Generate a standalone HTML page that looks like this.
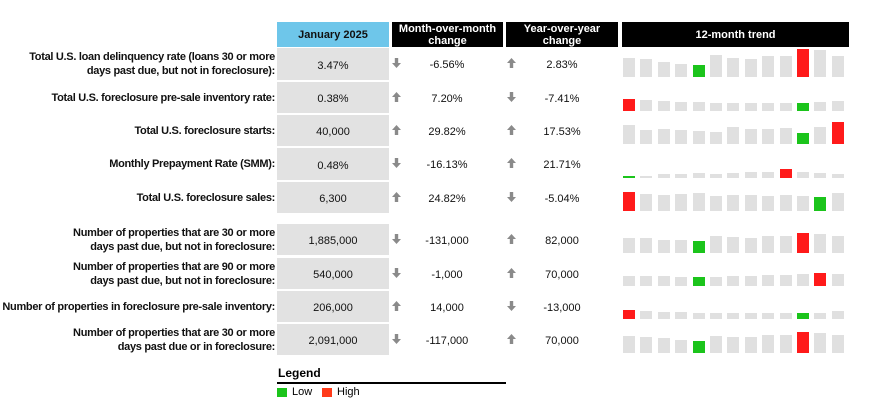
<!DOCTYPE html>
<html><head><meta charset="utf-8"><style>
body{margin:0;width:883px;height:406px;background:#fff;position:relative;overflow:hidden;font-family:"Liberation Sans",Arial,sans-serif;}
.a{position:absolute;}
.hd{position:absolute;background:#000;color:#fff;font-weight:bold;font-size:11px;text-align:center;line-height:12px;top:22px;height:25px;display:flex;align-items:center;justify-content:center;}
.lbl{position:absolute;right:608px;font-weight:bold;font-size:11px;letter-spacing:-0.3px;text-align:right;line-height:14px;color:#111;white-space:nowrap;}
.box{position:absolute;left:277px;width:112px;background:#e2e2e2;font-size:11px;text-align:center;color:#111;}
.v{position:absolute;font-size:11px;text-align:center;width:100px;color:#111;line-height:14px;}
.bar{position:absolute;width:12px;background:#e0e0e0;}
</style></head><body>
<div class="hd" style="left:277px;width:112px;background:#6ec6ea;color:#111;">January 2025</div>
<div class="hd" style="left:392px;width:111px;">Month-over-month<br>change</div>
<div class="hd" style="left:506px;width:112px;">Year-over-year<br>change</div>
<div class="hd" style="left:622px;width:227px;">12-month trend</div>
<div id="c"></div>
<div class="a" style="left:278px;top:366px;font-size:12px;font-weight:bold;">Legend</div>
<div class="a" style="left:277px;top:382px;width:229px;height:2px;background:#000;"></div>
<div class="a" style="left:277px;top:388px;width:10px;height:9px;background:#1bc41b;"></div>
<div class="a" style="left:292px;top:386px;font-size:11px;">Low</div>
<div class="a" style="left:322px;top:388px;width:10px;height:9px;background:#ff3b1a;"></div>
<div class="a" style="left:337px;top:386px;font-size:11px;">High</div>
<script>
var rows=[
[48,80,"Total U.S. loan delinquency rate (loans 30 or more<br>days past due, but not in foreclosure):","3.47%","d","-6.56%","u","2.83%",77.3,[19.7,18.7,15.7,13,12,22,19.3,18.7,21.7,21.7,28,27.3,21.7],4,10],
[82,113,"Total U.S. foreclosure pre-sale inventory rate:","0.38%","u","7.20%","d","-7.41%",111,[11.7,10.7,10,9.3,8.7,8.3,8.3,8,8,8,8,8.7,10],10,0],
[115,146,"Total U.S. foreclosure starts:","40,000","u","29.82%","u","17.53%",144,[19,13.7,14.7,14,13.3,12.3,16.7,15,14.7,15.7,11.3,17,22.3],10,12],
[148,180,"Monthly Prepayment Rate (SMM):","0.48%","d","-16.13%","u","21.71%",177.7,[2,1.3,3.7,4,4.7,4,4.7,5.3,5.3,8.3,5.3,4.7,3.7],0,9],
[182,213,"Total U.S. foreclosure sales:","6,300","u","24.82%","d","-5.04%",211,[18.7,17,16.3,16.7,17.7,15.3,16,16.3,15.3,16.3,15.3,14,17.7],11,0],
[224,255,"Number of properties that are 30 or more<br>days past due, but not in foreclosure:","1,885,000","d","-131,000","u","82,000",252.7,[15,14.7,13,12.3,11.7,16.7,15.3,15,16.3,16.7,19.3,18.7,16.7],4,10],
[258,289,"Number of properties that are 90 or more<br>days past due, but not in foreclosure:","540,000","d","-1,000","u","70,000",286,[10.3,10.3,9.7,9,9.3,9.3,9.7,10.3,10.7,10.7,11.7,12.7,12.3],4,11],
[291,322,"Number of properties in foreclosure pre-sale inventory:","206,000","u","14,000","d","-13,000",319.3,[9.7,8.3,7.7,7,6.3,6,6.3,6.3,6.3,6.3,6,6.3,8.3],10,0],
[324,355,"Number of properties that are 30 or more<br>days past due or in foreclosure:","2,091,000","d","-117,000","u","70,000",352.7,[16.7,15.7,14.3,13,12,17,16,15.7,17.7,17.7,20.3,19.7,17.7],4,10]];
function arr(d,x,y){var p=d=="u"?"M4.5,0 L9,5 L6.2,5 L6.2,10 L2.8,10 L2.8,5 L0,5Z":"M4.5,10 L9,5 L6.2,5 L6.2,0 L2.8,0 L2.8,5 L0,5Z";
return '<svg class="a" style="left:'+x+'px;top:'+y+'px" width="9" height="10"><path d="'+p+'" fill="#8a8a8a"/></svg>';}
var h="";rows.forEach(function(r){var t=r[0],b=r[1],m=(t+b)/2,two=r[2].indexOf("<br>")>0;
h+='<div class="lbl" style="top:'+(m-(two?14:7))+'px">'+r[2]+'</div>';
h+='<div class="box" style="top:'+t+'px;height:'+(b-t)+'px;line-height:'+(b-t+4)+'px">'+r[3]+'</div>';
h+=arr(r[4],392,m-6)+'<div class="v" style="left:397px;top:'+(m-6)+'px">'+r[5]+'</div>';
h+=arr(r[6],507,m-6)+'<div class="v" style="left:512px;top:'+(m-6)+'px">'+r[7]+'</div>';
r[9].forEach(function(v,i){var c="#e0e0e0";if(i==r[10])c="#1bc41b";if(i==r[11])c="#ff1a1a";
h+='<div class="bar" style="left:'+(623+i*17.4)+'px;top:'+(r[8]-v)+'px;height:'+v+'px;background:'+c+'"></div>';});});
document.getElementById("c").innerHTML=h;
</script>
</body></html>
